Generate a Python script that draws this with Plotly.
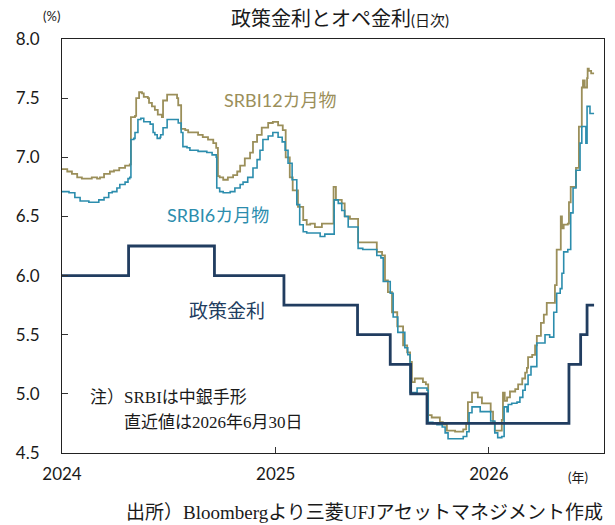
import plotly.graph_objects as go

# ---------------- data ----------------
srbi12_dates = [
    "2024-01-01","2024-01-10","2024-01-18","2024-01-27","2024-02-04","2024-02-21","2024-03-01","2024-03-06",
    "2024-03-13","2024-03-23","2024-03-30","2024-04-08","2024-04-18","2024-04-26","2024-04-28","2024-05-05",
    "2024-05-07","2024-05-12","2024-05-17","2024-05-20","2024-05-27","2024-05-29","2024-06-03","2024-06-08",
    "2024-06-13","2024-06-20","2024-06-22","2024-06-29","2024-07-16","2024-07-18","2024-07-23","2024-07-30",
    "2024-08-04","2024-08-21","2024-08-29","2024-09-07","2024-09-16","2024-09-21","2024-09-24","2024-09-27",
    "2024-10-03","2024-10-11","2024-10-20","2024-10-27","2024-11-01","2024-11-09","2024-11-18","2024-11-23",
    "2024-11-30","2024-12-08","2024-12-19","2024-12-27","2025-01-05","2025-01-13","2025-01-18","2025-01-25",
    "2025-01-30","2025-02-08","2025-02-17","2025-02-23","2025-03-01","2025-03-09","2025-03-21","2025-04-10",
    "2025-04-14","2025-04-24","2025-04-29","2025-05-08","2025-05-22","2025-06-23","2025-07-02","2025-07-07",
    "2025-07-12","2025-07-19","2025-07-28","2025-08-07","2025-08-14","2025-08-19","2025-08-22","2025-08-27",
    "2025-09-10","2025-09-15","2025-09-19","2025-09-25","2025-10-09","2025-10-14","2025-10-21","2025-11-04",
    "2025-11-18","2025-11-23","2025-11-26","2025-12-03","2025-12-13","2025-12-20","2026-01-04","2026-01-08",
    "2026-01-11","2026-01-23","2026-01-25","2026-01-28","2026-02-01","2026-02-06","2026-02-15","2026-02-20",
    "2026-02-27","2026-03-04","2026-03-07","2026-03-09","2026-03-16","2026-03-21","2026-03-24","2026-03-31",
    "2026-04-05","2026-04-10","2026-04-24","2026-04-27","2026-05-04","2026-05-06","2026-05-09","2026-05-16",
    "2026-05-18","2026-05-21","2026-05-30","2026-06-04","2026-06-09","2026-06-11","2026-06-14","2026-06-18",
    "2026-06-19","2026-06-21","2026-06-25","2026-06-30",
]
srbi12_vals = [
    6.90,6.88,6.86,6.83,6.82,6.83,6.82,6.83,
    6.86,6.88,6.89,6.91,6.93,6.94,7.34,7.35,
    7.50,7.55,7.54,7.51,7.50,7.46,7.43,7.40,
    7.36,7.34,7.48,7.53,7.50,7.44,7.24,7.23,
    7.21,7.19,7.17,7.15,7.12,7.08,6.84,6.83,
    6.81,6.83,6.85,6.88,6.93,6.99,7.04,7.13,
    7.19,7.25,7.29,7.30,7.27,7.23,7.00,6.83,
    6.72,6.58,6.47,6.43,6.44,6.41,6.44,6.75,
    6.64,6.61,6.50,6.48,6.28,6.20,6.17,5.96,
    5.86,5.69,5.57,5.41,5.35,5.27,5.10,5.13,
    5.10,5.08,4.82,4.80,4.76,4.74,4.69,4.68,
    4.70,4.75,4.93,5.01,4.97,4.92,4.85,4.76,
    4.69,4.78,5.01,4.94,4.97,5.02,5.04,5.08,
    5.13,5.18,5.22,5.31,5.33,5.41,5.49,5.60,
    5.67,5.77,5.92,6.22,6.50,6.40,6.43,6.44,
    6.62,6.75,6.91,7.26,7.59,7.65,7.59,7.67,
    7.75,7.73,7.71,7.71,
]

srbi6_dates = [
    "2024-01-01","2024-01-13","2024-01-23","2024-02-01","2024-02-16","2024-03-04","2024-03-13","2024-03-21",
    "2024-03-27","2024-04-04","2024-04-09","2024-04-18","2024-04-23","2024-04-26","2024-04-28","2024-05-03",
    "2024-05-05","2024-05-10","2024-05-15","2024-05-20","2024-05-31","2024-06-05","2024-06-08","2024-06-12",
    "2024-06-17","2024-06-18","2024-06-22","2024-06-29","2024-07-18","2024-07-23","2024-07-26","2024-08-02",
    "2024-08-07","2024-08-21","2024-09-05","2024-09-14","2024-09-21","2024-09-22","2024-09-27","2024-10-03",
    "2024-10-15","2024-10-23","2024-11-01","2024-11-06","2024-11-14","2024-11-23","2024-11-30","2024-12-05",
    "2024-12-10","2024-12-19","2024-12-27","2025-01-05","2025-01-12","2025-01-17","2025-01-22","2025-01-29",
    "2025-02-06","2025-02-11","2025-02-17","2025-02-23","2025-03-18","2025-03-26","2025-04-11","2025-04-18",
    "2025-04-24","2025-04-29","2025-05-05","2025-05-22","2025-05-30","2025-06-23","2025-06-30","2025-07-04",
    "2025-07-16","2025-07-21","2025-07-29","2025-08-10","2025-08-15","2025-08-19","2025-08-31","2025-09-17",
    "2025-09-19","2025-09-27","2025-10-04","2025-10-13","2025-10-18","2025-10-23","2025-11-18","2025-11-24",
    "2025-11-28","2025-12-03","2025-12-17","2026-01-04","2026-01-11","2026-01-16","2026-01-23","2026-01-27",
    "2026-02-01","2026-02-03","2026-02-09","2026-02-18","2026-02-23","2026-02-28","2026-03-04","2026-03-09",
    "2026-03-14","2026-03-24","2026-04-07","2026-04-15","2026-04-22","2026-04-27","2026-05-03","2026-05-06",
    "2026-05-09","2026-05-16","2026-05-21","2026-05-25","2026-05-30","2026-06-06","2026-06-09","2026-06-16",
    "2026-06-18","2026-06-23","2026-06-30",
]
srbi6_vals = [
    6.71,6.70,6.66,6.63,6.62,6.64,6.66,6.70,
    6.71,6.74,6.77,6.79,6.82,6.83,7.15,7.16,
    7.21,7.32,7.33,7.30,7.28,7.21,7.19,7.16,
    7.17,7.19,7.25,7.32,7.29,7.21,7.09,7.08,
    7.06,7.05,7.04,7.02,7.00,6.74,6.71,6.70,
    6.71,6.74,6.77,6.79,6.83,6.91,6.98,7.06,
    7.15,7.18,7.21,7.17,7.13,7.06,6.95,6.81,
    6.60,6.43,6.37,6.36,6.33,6.35,6.64,6.61,
    6.55,6.50,6.41,6.23,6.22,6.17,6.15,5.95,
    5.85,5.65,5.52,5.39,5.33,5.01,5.05,5.03,
    4.76,4.75,4.74,4.72,4.67,4.62,4.64,4.68,
    4.84,4.89,4.85,4.77,4.67,4.63,4.64,4.89,
    4.85,4.91,4.92,4.93,4.97,5.03,5.08,5.16,
    5.23,5.43,5.50,5.48,5.69,5.85,5.89,6.02,
    6.20,6.22,6.53,6.74,6.89,7.12,7.26,7.12,
    7.43,7.37,7.37,
]

policy_dates = ["2024-01-01","2024-04-24","2024-09-18","2025-01-15","2025-05-21","2025-07-16",
                "2025-08-20","2025-09-17","2026-05-18","2026-06-07","2026-06-18","2026-06-30"]
policy_vals = [6.00,6.25,6.00,5.75,5.50,5.25,5.00,4.75,5.25,5.50,5.75,5.75]

year_ticks = ["2024-01-01","2025-01-01","2026-01-01"]
year_labels = ["2024","2025","2026"]
y_ticks = [4.5,5.0,5.5,6.0,6.5,7.0,7.5,8.0]

# ---------------- style ----------------
C12 = "#9B8F5A"
C6 = "#2C8DAD"
CP = "#213D60"
LAT = "Lato, Noto Sans CJK JP, sans-serif"
SER = "Liberation Serif, Noto Sans CJK JP, serif"
TXT = "#1a1a1a"

fig = go.Figure()
fig.add_trace(go.Scatter(x=srbi12_dates, y=srbi12_vals, mode="lines", line_shape="hv",
                         line=dict(color=C12, width=1.8), name="SRBI12カ月物"))
fig.add_trace(go.Scatter(x=srbi6_dates, y=srbi6_vals, mode="lines", line_shape="hv",
                         line=dict(color=C6, width=1.6), name="SRBI6カ月物"))
fig.add_trace(go.Scatter(x=policy_dates, y=policy_vals, mode="lines", line_shape="hv",
                         line=dict(color=CP, width=2.8), name="政策金利"))

fig.update_layout(
    width=615, height=525,
    margin=dict(l=62, r=11, t=39, b=72, autoexpand=False),
    paper_bgcolor="white", plot_bgcolor="white",
    showlegend=False,
    font=dict(family=LAT, size=15, color=TXT),
)
fig.update_xaxes(
    type="date", range=["2024-01-01", "2026-07-17"],
    tickmode="array", tickvals=year_ticks, ticktext=year_labels,
    ticks="inside", ticklen=6, tickcolor="#333", tickwidth=1,
    showline=True, linecolor="#222", linewidth=1, mirror=True,
    showgrid=False, zeroline=False,
    tickfont=dict(family=LAT, size=17, color=TXT), ticklabelstandoff=6,
)
fig.update_yaxes(
    range=[4.5, 8.0], tickmode="array", tickvals=y_ticks, tickformat=".1f",
    ticks="inside", ticklen=6, tickcolor="#333", tickwidth=1,
    showline=True, linecolor="#222", linewidth=1, mirror=True,
    showgrid=False, zeroline=False,
    tickfont=dict(family=LAT, size=17, color=TXT), ticklabelstandoff=18,
)

ann = [
    dict(text="政策金利とオペ金利<span style='font-size:15px'>(日次)</span>", x=340, y=18,
         font=dict(family=LAT, size=20, color=TXT)),
    dict(text="(%)", x=51, y=16, font=dict(family=LAT, size=13, color=TXT)),
    dict(text="(年)", x=578, y=477, font=dict(family=LAT, size=13, color=TXT)),
    dict(text="SRBI12カ月物", x=280, y=100, font=dict(family=LAT, size=18, color=C12)),
    dict(text="SRBI6カ月物", x=218, y=215, font=dict(family=LAT, size=18, color=C6)),
    dict(text="政策金利", x=227, y=310, font=dict(family=LAT, size=19, color=CP)),
    dict(text="注）SRBIは中銀手形", x=88, y=397, xanchor="left", font=dict(family=SER, size=17, color=TXT)),
    dict(text="直近値は2026年6月30日", x=122, y=422, xanchor="left", font=dict(family=SER, size=17, color=TXT)),
    dict(text="出所）Bloombergより三菱UFJアセットマネジメント作成", x=605, y=512, xanchor="right",
         font=dict(family=SER, size=19, color=TXT)),
]
# convert pixel placements to paper coordinates
L, R, T, B = 62, 604, 39, 453
out = []
for a in ann:
    a2 = dict(a)
    a2.update(x=(a["x"] - L) / (R - L), y=(B - a["y"]) / (B - T), xref="paper", yref="paper",
              showarrow=False, yanchor="middle")
    a2.setdefault("xanchor", "center")
    out.append(a2)
fig.update_layout(annotations=out)

fig.write_html("out.html", config={"displayModeBar": False},
               post_script="document.body.style.margin='0px';")
